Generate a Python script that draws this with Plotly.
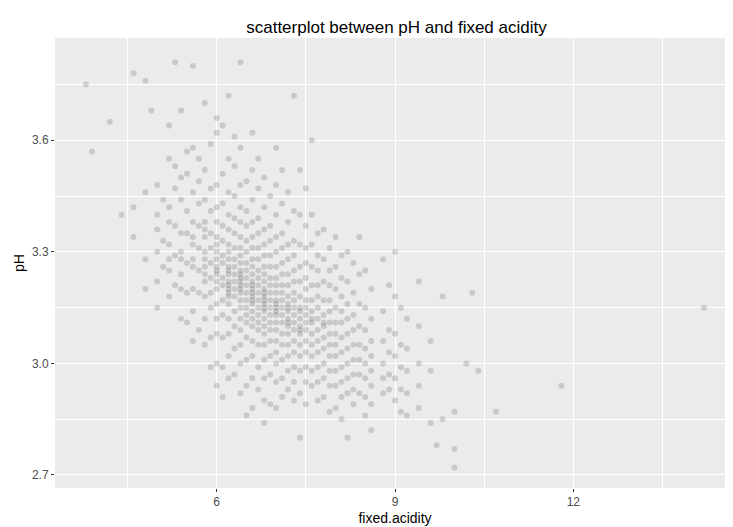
import plotly.graph_objects as go

fa_levels = [4.4, 4.6, 4.8, 5.0, 5.2, 5.4, 5.6, 5.8, 6.0, 6.2, 6.4, 6.6, 6.8, 7.0, 7.2, 7.4, 7.6, 7.8, 8.0, 8.2, 8.4, 8.6, 8.8, 9.0, 9.2, 9.4, 9.6]
ph_by_level = [
    [3.40],
    [3.42, 3.34],
    [3.46, 3.28, 3.20],
    [3.48, 3.40, 3.30, 3.22, 3.15, 3.36],
    [3.55, 3.42, 3.32, 3.25, 3.18, 3.38, 3.28, 3.64],
    [3.50, 3.44, 3.35, 3.28, 3.20, 3.12, 3.30, 3.24, 3.68],
    [3.58, 3.46, 3.38, 3.32, 3.26, 3.20, 3.14, 3.06, 3.34, 3.28],
    [3.52, 3.44, 3.38, 3.34, 3.30, 3.26, 3.22, 3.18, 3.12, 3.05, 3.36, 3.28, 3.24, 3.70],
    [3.62, 3.48, 3.42, 3.38, 3.34, 3.30, 3.26, 3.24, 3.22, 3.20, 3.16, 3.12, 3.08, 3.00, 2.94, 3.28, 3.25, 3.32, 3.66],
    [3.55, 3.46, 3.40, 3.36, 3.32, 3.30, 3.28, 3.26, 3.24, 3.22, 3.20, 3.18, 3.16, 3.12, 3.08, 3.02, 2.96, 3.25, 3.21, 3.19, 3.72],
    [3.58, 3.48, 3.42, 3.38, 3.34, 3.31, 3.29, 3.27, 3.25, 3.23, 3.21, 3.19, 3.17, 3.15, 3.12, 3.09, 3.05, 3.00, 2.92, 3.24, 3.20, 3.22],
    [3.52, 3.44, 3.38, 3.34, 3.31, 3.28, 3.26, 3.24, 3.22, 3.20, 3.18, 3.16, 3.14, 3.12, 3.10, 3.06, 3.02, 2.96, 2.88, 3.19, 3.21, 3.17, 3.62],
    [3.50, 3.42, 3.36, 3.32, 3.29, 3.26, 3.24, 3.22, 3.20, 3.18, 3.16, 3.14, 3.12, 3.10, 3.08, 3.05, 3.01, 2.96, 2.90, 3.19, 3.17, 3.15, 2.84],
    [3.48, 3.40, 3.34, 3.30, 3.26, 3.23, 3.21, 3.19, 3.17, 3.15, 3.13, 3.11, 3.09, 3.06, 3.03, 3.00, 2.95, 2.88, 3.16, 3.14, 3.58],
    [3.46, 3.38, 3.32, 3.28, 3.24, 3.21, 3.18, 3.16, 3.14, 3.12, 3.10, 3.08, 3.05, 3.02, 2.98, 2.93, 3.15, 3.11],
    [3.52, 3.40, 3.32, 3.26, 3.22, 3.18, 3.15, 3.12, 3.10, 3.08, 3.05, 3.02, 2.98, 2.92, 3.14, 3.09, 2.80],
    [3.40, 3.32, 3.26, 3.21, 3.17, 3.14, 3.11, 3.08, 3.05, 3.02, 2.98, 2.94, 3.12, 3.60],
    [3.36, 3.28, 3.22, 3.17, 3.13, 3.10, 3.07, 3.04, 3.00, 2.96, 2.91, 3.11],
    [3.34, 3.26, 3.20, 3.15, 3.11, 3.08, 3.05, 3.02, 2.98, 2.94, 2.88],
    [3.30, 3.22, 3.16, 3.12, 3.08, 3.04, 3.00, 2.96, 2.92, 2.80],
    [3.34, 3.24, 3.16, 3.10, 3.05, 3.01, 2.97, 2.92],
    [3.20, 3.12, 3.06, 3.02, 2.98, 2.94, 2.89, 2.82],
    [3.28, 3.14, 3.06, 3.00, 2.96, 2.92],
    [3.18, 3.08, 3.02, 2.96, 2.90, 3.30],
    [3.12, 3.04, 2.98, 2.92, 2.86],
    [3.10, 3.00, 2.94, 2.88, 3.22],
    [3.06, 2.98, 2.84],
]
core_levels = [5.1, 5.3, 5.5, 5.7, 5.9, 6.1, 6.3, 6.5, 6.7, 6.9, 7.1, 7.3, 7.5, 7.7, 7.9, 8.1, 8.3, 8.5, 8.9, 9.1]
core_ph = [
    [3.44, 3.33, 3.26],
    [3.47, 3.37, 3.29, 3.21, 3.53],
    [3.51, 3.41, 3.35, 3.27, 3.19, 3.11, 3.57],
    [3.49, 3.43, 3.37, 3.31, 3.25, 3.19, 3.09, 3.55],
    [3.47, 3.41, 3.35, 3.31, 3.27, 3.23, 3.19, 3.15, 3.07, 2.99, 3.59],
    [3.51, 3.43, 3.37, 3.33, 3.29, 3.27, 3.23, 3.21, 3.17, 3.13, 3.07, 2.99, 3.64, 2.91],
    [3.53, 3.45, 3.39, 3.35, 3.31, 3.28, 3.26, 3.24, 3.22, 3.20, 3.18, 3.14, 3.10, 3.04, 2.97, 3.61],
    [3.49, 3.41, 3.37, 3.33, 3.30, 3.27, 3.25, 3.23, 3.21, 3.19, 3.17, 3.15, 3.13, 3.11, 3.07, 3.01, 2.94, 2.86],
    [3.47, 3.39, 3.35, 3.31, 3.28, 3.25, 3.23, 3.21, 3.19, 3.17, 3.15, 3.13, 3.11, 3.09, 3.05, 2.99, 2.93, 3.55],
    [3.45, 3.37, 3.33, 3.29, 3.26, 3.23, 3.21, 3.19, 3.17, 3.15, 3.13, 3.11, 3.09, 3.06, 3.02, 2.97, 2.89],
    [3.43, 3.35, 3.31, 3.27, 3.24, 3.21, 3.19, 3.17, 3.15, 3.13, 3.11, 3.08, 3.05, 3.01, 2.96, 2.91, 3.52],
    [3.41, 3.33, 3.29, 3.25, 3.22, 3.19, 3.17, 3.15, 3.13, 3.11, 3.09, 3.06, 3.03, 2.99, 2.95, 2.90],
    [3.37, 3.31, 3.27, 3.23, 3.20, 3.17, 3.15, 3.13, 3.11, 3.09, 3.06, 3.03, 2.99, 2.95, 2.89, 3.47],
    [3.35, 3.29, 3.25, 3.21, 3.18, 3.15, 3.12, 3.09, 3.06, 3.03, 2.99, 2.95, 2.90],
    [3.31, 3.25, 3.21, 3.17, 3.14, 3.11, 3.08, 3.05, 3.02, 2.98, 2.94, 2.87],
    [3.29, 3.23, 3.18, 3.14, 3.11, 3.07, 3.03, 2.99, 2.95, 2.91, 2.85],
    [3.27, 3.19, 3.13, 3.09, 3.05, 3.01, 2.97, 2.93, 2.89],
    [3.25, 3.15, 3.09, 3.04, 3.00, 2.96, 2.91, 2.86],
    [3.21, 3.09, 3.03, 2.97, 2.93],
    [3.15, 3.05, 2.99, 2.93, 2.87],
]
outlier_fa = [3.8, 3.9, 4.2, 4.6, 4.8, 5.3, 5.6, 6.4, 7.3, 14.2, 11.8, 10.7, 10.3, 10.0, 9.8, 10.0, 9.7, 10.0, 9.8, 10.2, 10.4, 4.9]
outlier_ph = [3.75, 3.57, 3.65, 3.78, 3.76, 3.81, 3.80, 3.81, 3.72, 3.15, 2.94, 2.87, 3.19, 2.87, 2.85, 2.77, 2.78, 2.72, 3.18, 3.00, 2.98, 3.68]

xs, ys = [], []
for levels, groups in ((fa_levels, ph_by_level), (core_levels, core_ph)):
    for f, phs in zip(levels, groups):
        for p in phs:
            xs.append(f); ys.append(p)
xs += outlier_fa
ys += outlier_ph

fig = go.Figure(go.Scatter(x=xs, y=ys, mode="markers",
                           marker=dict(color="black", size=6, opacity=0.14, line=dict(width=0))))

fig.update_layout(
    width=733, height=527,
    paper_bgcolor="white", plot_bgcolor="#EBEBEB",
    margin=dict(l=47, r=6, t=30, b=47),
    title=dict(text="scatterplot between pH and fixed acidity", x=0.53, xanchor="center", y=0.975,
               font=dict(family="Liberation Sans", size=17, color="black")),
    font=dict(family="Liberation Sans"),
    showlegend=False,
)
fig.update_xaxes(range=[3.28, 14.72], tickvals=[6, 9, 12], gridcolor="white", gridwidth=1.2, automargin=False,
                 minor=dict(tickvals=[4.5, 7.5, 10.5, 13.5], gridcolor="white", gridwidth=0.5, showgrid=True),
                 zeroline=False, ticks="outside", ticklen=3, tickcolor="#333333",
                 tickfont=dict(size=12, color="#4D4D4D"),
                 title=dict(text="fixed.acidity", font=dict(size=14, color="black"), standoff=4))
fig.update_yaxes(range=[2.665, 3.875], tickvals=[2.7, 3.0, 3.3, 3.6], ticktext=["2.7", "3.0", "3.3", "3.6"],
                 gridcolor="white", gridwidth=1.2, automargin=False,
                 minor=dict(tickvals=[2.85, 3.15, 3.45, 3.75], gridcolor="white", gridwidth=0.5, showgrid=True),
                 zeroline=False, ticks="outside", ticklen=3, tickcolor="#333333",
                 tickfont=dict(size=12, color="#4D4D4D"),
                 title=dict(text="pH", font=dict(size=14, color="black"), standoff=4))
fig.write_html("out.html")
